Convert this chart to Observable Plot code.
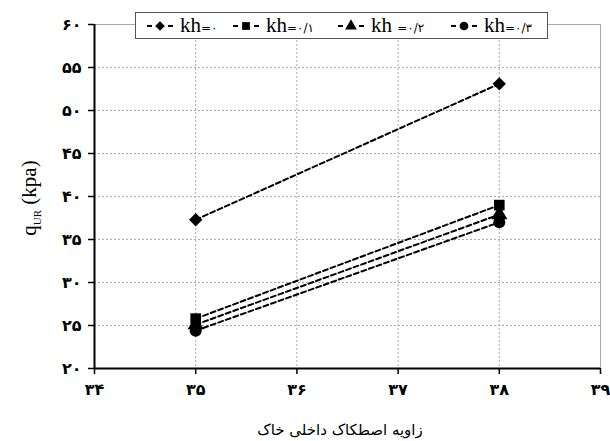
<!DOCTYPE html>
<html>
<head>
<meta charset="utf-8">
<script src="https://cdn.jsdelivr.net/npm/d3@7"></script>
<script src="https://cdn.jsdelivr.net/npm/@observablehq/plot@0.6"></script>
<style>
  body { margin: 0; background: #fff; }
  #wrap { position: relative; width: 610px; height: 441px; overflow: hidden; }
  #legend { position: absolute; left: 135px; top: 12px; width: 411px; height: 25px;
    background: #fff; border: 1px solid #555;
    font-family: "Liberation Serif", serif; }
  .item { display: flex; align-items: center; position: absolute; top: 0; height: 25px; white-space: nowrap; }
  .kh { font-size: 21px; line-height: 25px; font-family: "Liberation Serif", serif; }
  .eq { font-size: 12px; font-family: "DejaVu Sans", sans-serif; }
  #ylab { position: absolute; left: 30px; top: 198px; transform: translate(-50%, -50%) rotate(-90deg);
    font-family: "Liberation Serif", "Times New Roman", serif; font-size: 21px; white-space: nowrap; }
  #ylab sub { font-size: 11px; }
  #xlab { position: absolute; left: 340px; top: 430px; transform: translate(-50%, -50%);
    font-family: "DejaVu Sans", sans-serif; font-size: 15px; white-space: nowrap; direction: rtl; }
</style>
</head>
<body>
<div id="wrap"></div>
<script>
const xTicks = [34, 35, 36, 37, 38, 39];
const yTicks = [20, 25, 30, 35, 40, 45, 50, 55, 60];
const angles = [35, 38];
const seriesKeys = ["kh0", "kh01", "kh02", "kh03"];
const seriesLabels = ["kh=۰", "kh=۰/۱", "kh =۰/۲", "kh=۰/۳"];
const kh0 = [37.3, 53.1];
const kh01 = [25.8, 39.0];
const kh02 = [25.1, 37.9];
const kh03 = [24.4, 37.0];
const symbolNames = ["diamond2", "square", "triangle", "circle"];
const xLabel = "زاویه اصطکاک داخلی خاک";

const values = [kh0, kh01, kh02, kh03];
const rows = [];
seriesKeys.forEach((s, i) => angles.forEach((a, j) => rows.push({series: s, angle: a, q: values[i][j]})));

const fa = d => String(d).replace(/\./g, "/").replace(/[0-9]/g, c => "۰۱۲۳۴۵۶۷۸۹"[+c]);

const chart = Plot.plot({
  width: 610, height: 441,
  marginLeft: 94, marginRight: 10, marginTop: 24, marginBottom: 73,
  style: {fontFamily: "DejaVu Sans, sans-serif", fontSize: "15px", background: "white"},
  x: {domain: [34, 39]},
  y: {domain: [20, 60]},
  symbol: {domain: seriesKeys, range: symbolNames},
  marks: [
    Plot.gridX(xTicks.slice(1, -1), {stroke: "#aaa", strokeOpacity: 1, strokeDasharray: "2,2"}),
    Plot.gridY(yTicks.slice(1, -1), {stroke: "#aaa", strokeOpacity: 1, strokeDasharray: "2,2"}),
    Plot.ruleY([60], {stroke: "#aaa"}),
    Plot.ruleX([39], {stroke: "#aaa"}),
    Plot.line(rows, {x: "angle", y: "q", z: "series", stroke: "black", strokeWidth: 2, strokeDasharray: "5,3"}),
    Plot.dot(rows, {x: "angle", y: "q", symbol: "series", fill: "black", stroke: "none", r: 6}),
    Plot.axisX({ticks: xTicks, tickFormat: fa, tickSize: 6, tickPadding: 9, label: null, stroke: "black", strokeWidth: 1.5, fontSize: 16, fontWeight: "bold"}),
    Plot.axisY({ticks: yTicks, tickFormat: fa, tickSize: 6, tickPadding: 7, label: null, stroke: "black", strokeWidth: 1.5, fontSize: 16, fontWeight: "bold"}),
    Plot.ruleX([34], {stroke: "black", strokeWidth: 2}),
    Plot.ruleY([20], {stroke: "black", strokeWidth: 2})
  ]
});
const wrap = document.getElementById("wrap");
wrap.appendChild(chart);

// legend
const legend = document.createElement("div");
legend.id = "legend";
const itemX = [10, 96, 201, 314];
const symFns = [d3.symbolDiamond2, d3.symbolSquare, d3.symbolTriangle, d3.symbolCircle];
seriesLabels.forEach((lab, i) => {
  const it = document.createElement("div");
  it.className = "item";
  it.style.left = itemX[i] + "px";
  const svg = d3.create("svg").attr("width", 28).attr("height", 14);
  svg.append("line").attr("x1", 1).attr("x2", 6).attr("y1", 7).attr("y2", 7).attr("stroke", "black").attr("stroke-width", 2);
  svg.append("line").attr("x1", 22).attr("x2", 27).attr("y1", 7).attr("y2", 7).attr("stroke", "black").attr("stroke-width", 2);
  svg.append("path").attr("transform", "translate(14,7)").attr("d", d3.symbol(symFns[i], 60)()).attr("fill", "black");
  it.appendChild(svg.node());
  const t = document.createElement("span");
  t.style.marginLeft = "6px";
  const m = lab.match(/^(kh\s?)(.*)$/);
  t.innerHTML = '<span class="kh">' + m[1] + '</span><span class="eq">' + m[2] + '</span>';
  it.appendChild(t);
  legend.appendChild(it);
});
wrap.appendChild(legend);

const yl = document.createElement("div");
yl.id = "ylab";
yl.innerHTML = "q<sub>UR</sub> (kpa)";
wrap.appendChild(yl);

const xl = document.createElement("div");
xl.id = "xlab";
xl.textContent = xLabel;
wrap.appendChild(xl);
</script>
</body>
</html>
